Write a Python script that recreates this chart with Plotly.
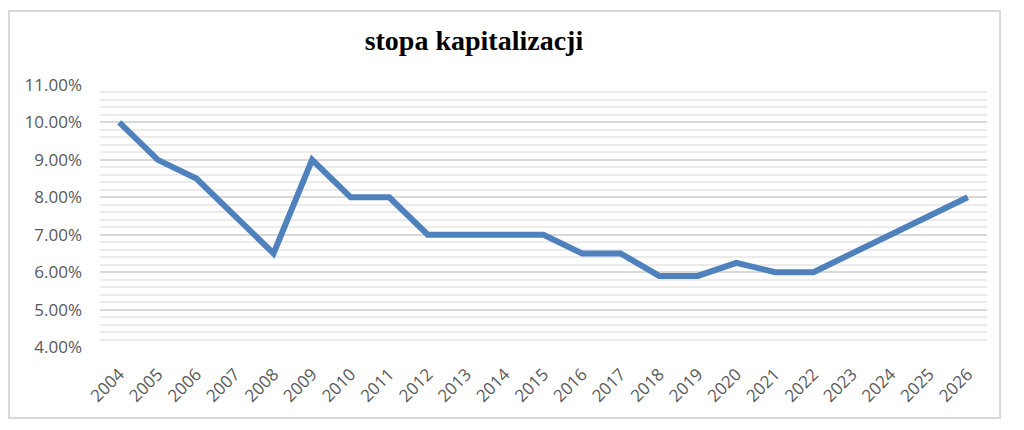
import plotly.graph_objects as go

# Data
years = [str(y) for y in range(2004, 2027)]
rates = [10.0, 9.0, 8.5, 7.5, 6.5, 9.0, 8.0, 8.0, 7.0, 7.0, 7.0, 7.0,
         6.5, 6.5, 5.9, 5.9, 6.25, 6.0, 6.0, 6.5, 7.0, 7.5, 8.0]
rates = [r / 100 for r in rates]

title = "stopa kapitalizacji"

fig = go.Figure()

fig.add_trace(go.Scatter(
    x=years, y=rates, mode="lines",
    line=dict(color="#4f81bd", width=6),
    hoverinfo="skip",
))

# outer chart frame (Excel style)
fig.add_shape(type="rect", xref="paper", yref="paper",
              x0=-0.1026, x1=1.0147, y0=-0.271, y1=1.282,
              line=dict(color="#d9d9d9", width=2), layer="below")

# page has an 8px body margin, so margins are shifted by 8px
fig.update_layout(
    width=1024, height=430,
    margin=dict(l=92, r=45, t=77, b=91),
    paper_bgcolor="white", plot_bgcolor="white",
    showlegend=False,
    title=dict(text="<b>" + title + "</b>", x=0.455, xanchor="center",
               y=0.925, yanchor="middle",
               font=dict(family="Liberation Serif", size=28, color="#000000")),
)

fig.update_xaxes(
    type="category", range=[-0.5, 22.5], automargin=False,
    tickangle=-45, showgrid=False, zeroline=False, showline=False,
    ticks="", ticklen=0,
    tickfont=dict(family="Open Sans", size=17, color="#595959"),
    ticklabelstandoff=13,
)

fig.update_yaxes(
    range=[0.04, 0.11], dtick=0.01, tickformat=".2%", automargin=False,
    showgrid=True, gridcolor="#d9d9d9", gridwidth=2,
    minor=dict(dtick=0.002, showgrid=True, gridcolor="#ebebeb", gridwidth=2),
    zeroline=False, showline=False, ticks="",
    tickfont=dict(family="Open Sans", size=17, color="#595959"),
    ticklabelstandoff=17,
)

fig.write_html("out.html")
